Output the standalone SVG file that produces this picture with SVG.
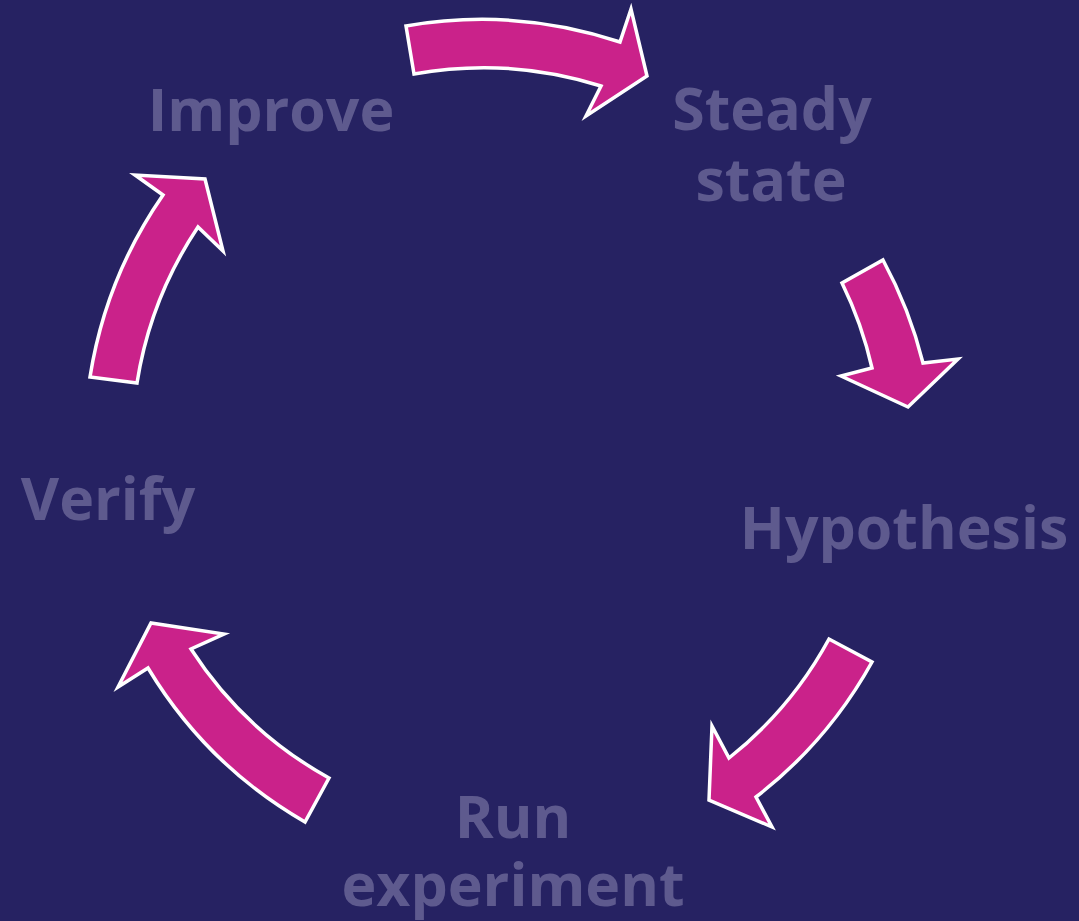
<svg xmlns="http://www.w3.org/2000/svg" width="1079" height="921" viewBox="0 0 1079 921">
<style>
.arrow{fill:#CA228A;stroke:#FFFFFF;stroke-width:3.5;stroke-linejoin:miter}
.lbl{font-family:"Open Sans","Noto Sans",sans-serif;font-weight:700;font-size:59px;fill:#5E5A8E;text-anchor:middle}
</style>
<rect width="1079" height="921" fill="#262262"/>
<g id="connectors">
<path class="arrow" d="M 406,26 A 440,440 0 0 1 620,42 L 631,9 L 647,76 L 586,116 L 601,86 A 390,390 0 0 0 414,74 Z"/>
<path class="arrow" d="M 883,260 A 440,440 0 0 1 923,363 L 958,359 L 908,407 L 841,376 L 872,368 A 390,390 0 0 0 842,283 Z"/>
<path class="arrow" d="M 872,662 A 440,440 0 0 1 756,797 L 772,827 L 709,800 L 712,726 L 729,758 A 390,390 0 0 0 829,639 Z"/>
<path class="arrow" d="M 305,822 A 440,440 0 0 1 148,668 L 118,687 L 151,623 L 224,634 L 191,649 A 390,390 0 0 0 329,778 Z"/>
<path class="arrow" d="M 90,377 A 440,440 0 0 1 163,195 L 135,175 L 205,179 L 223,251 L 198,227 A 390,390 0 0 0 137,383 Z"/>
</g>
<g id="node-steady"><text class="lbl" x="772" y="130">Steady</text><text class="lbl" x="771" y="201">state</text></g>
<g id="node-hypothesis"><text class="lbl" x="904" y="549">Hypothesis</text></g>
<g id="node-run"><text class="lbl" x="513" y="838">Run</text><text class="lbl" x="513" y="906">experiment</text></g>
<g id="node-verify"><text class="lbl" x="108" y="520">Verify</text></g>
<g id="node-improve"><text class="lbl" x="271" y="131">Improve</text></g>
</svg>
